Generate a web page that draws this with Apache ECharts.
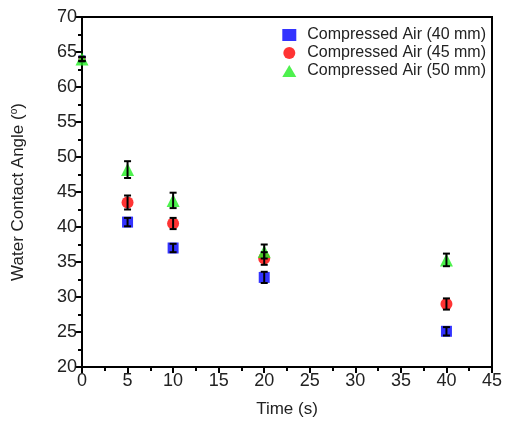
<!DOCTYPE html>
<html lang="en">
<head>
  <meta charset="UTF-8">
  <title>Water Contact Angle</title>
  <script src="https://cdn.jsdelivr.net/npm/echarts/dist/echarts.min.js"></script>
  <style>
    html, body { margin: 0; padding: 0; background: #fff; }
    #chart { width: 507px; height: 423px; }
  </style>
</head>
<body>
  <div id="chart"></div>
<script>
  const times = [0, 5, 10, 20, 40];
  const names = ["Compressed Air (40 mm)", "Compressed Air (45 mm)", "Compressed Air (50 mm)"];
  const air40 = [64.0, 40.7, 37.0, 32.8, 25.1];
  const air45 = [64.0, 43.5, 40.5, 35.5, 29.0];
  const air50 = [64.0, 48.2, 43.8, 36.5, 35.3];
  const err40 = [0.3, 0.6, 0.6, 0.8, 0.6];
  const err45 = [0.3, 1.0, 0.8, 0.9, 0.8];
  const err50 = [0.3, 1.2, 1.1, 1.0, 0.9];

  const font = "Liberation Sans, Arial, sans-serif";
  const ink = "#222";

  function pairs(ys) {
    return times.map((t, i) => [t, ys[i]]);
  }

  function errData(ys, es) {
    return times.map((t, i) => [t, ys[i] - es[i], ys[i] + es[i]]);
  }

  // under the green triangle at t = 0, keep the other two markers small
  function sizeFor(big) {
    return (val, params) => (params.dataIndex === 0 ? 7 : big);
  }

  function errorBars(ys, es) {
    return {
      type: "custom",
      z: 5,
      silent: true,
      data: errData(ys, es),
      renderItem: function (params, api) {
        const lo = api.coord([api.value(0), api.value(1)]);
        const hi = api.coord([api.value(0), api.value(2)]);
        const w = 3.5;
        const style = { stroke: "#000", lineWidth: 2 };
        return {
          type: "group",
          children: [
            { type: "line", shape: { x1: lo[0], y1: lo[1], x2: hi[0], y2: hi[1] }, style: style },
            { type: "line", shape: { x1: lo[0] - w, y1: lo[1], x2: lo[0] + w, y2: lo[1] }, style: style },
            { type: "line", shape: { x1: hi[0] - w, y1: hi[1], x2: hi[0] + w, y2: hi[1] }, style: style },
          ],
        };
      },
    };
  }

  const chart = echarts.init(document.getElementById("chart"));
  chart.setOption({
    animation: false,
    textStyle: { fontFamily: font },
    grid: { left: 82, right: 15, top: 17, bottom: 56, containLabel: false,
            show: true, borderColor: "#000", borderWidth: 2 },
    legend: {
      orient: "vertical",
      right: 16,
      top: 22,
      itemGap: 2,
      itemWidth: 14,
      itemHeight: 12,
      textStyle: { fontSize: 16, color: ink, fontFamily: font, padding: [0, 0, 0, 6] },
      data: names,
    },
    xAxis: {
      type: "value",
      min: 0, max: 45, interval: 5,
      name: "Time (s)",
      nameLocation: "middle",
      nameGap: 34,
      nameTextStyle: { fontSize: 17, color: ink, fontFamily: font },
      axisLine: { lineStyle: { color: "#000", width: 2 } },
      axisTick: { inside: false, length: 6, lineStyle: { color: "#000", width: 2 } },
      minorTick: { show: true, splitNumber: 2, length: 4, lineStyle: { color: "#000", width: 2 } },
      axisLabel: { fontSize: 18, color: ink, margin: 5, fontFamily: font },
      splitLine: { show: false },
    },
    yAxis: {
      type: "value",
      min: 20, max: 70, interval: 5,
      name: "Water Contact Angle ({sup|o})",
      nameLocation: "middle",
      nameGap: 55,
      nameTextStyle: {
        fontSize: 17, color: ink, fontFamily: font,
        rich: { sup: { fontSize: 10, color: ink, fontFamily: font, verticalAlign: "top", padding: [0, 0, 8, 0] } },
      },
      axisLine: { lineStyle: { color: "#000", width: 2 } },
      axisTick: { inside: false, length: 6, lineStyle: { color: "#000", width: 2 } },
      minorTick: { show: true, splitNumber: 2, length: 4, lineStyle: { color: "#000", width: 2 } },
      axisLabel: { fontSize: 18, color: ink, margin: 5, fontFamily: font },
      splitLine: { show: false },
    },
    series: [
      errorBars(air40, err40),
      errorBars(air45, err45),
      errorBars(air50, err50),
      { name: names[0], type: "scatter", symbol: "rect", symbolSize: sizeFor(11), z: 3,
        itemStyle: { color: "#0000ff" }, data: pairs(air40) },
      { name: names[1], type: "scatter", symbol: "circle", symbolSize: sizeFor(12), z: 3,
        itemStyle: { color: "#ff0000" }, data: pairs(air45) },
      { name: names[2], type: "scatter", symbol: "triangle", symbolSize: 13, z: 4,
        itemStyle: { color: "#22ee22" }, data: pairs(air50) },
    ],
  });
</script>
</body>
</html>
